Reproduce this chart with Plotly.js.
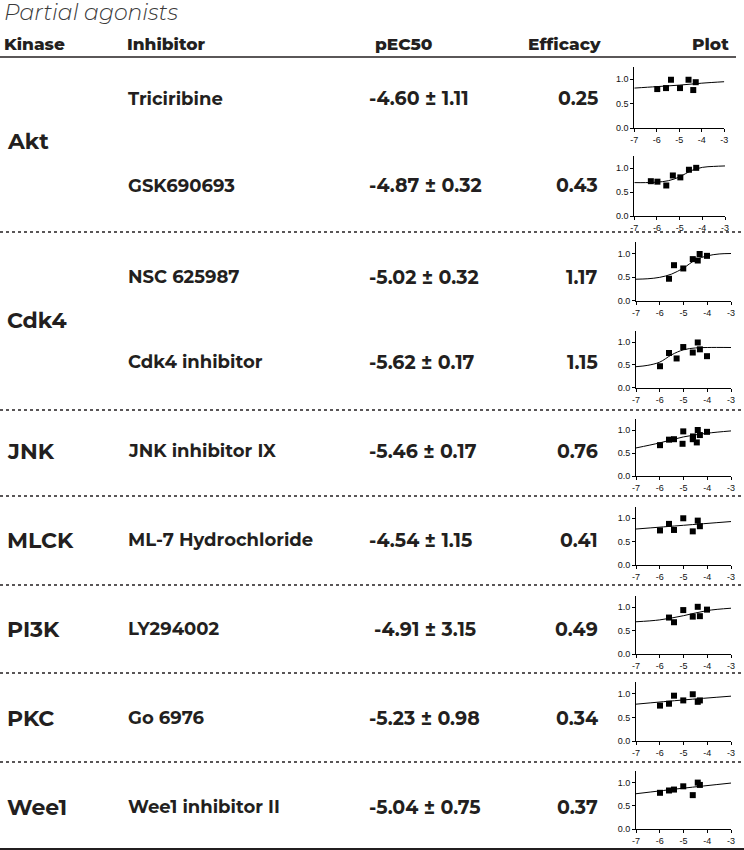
<!DOCTYPE html>
<html>
<head>
<meta charset="utf-8">
<script src="https://cdn.plot.ly/plotly-3.0.1.min.js"></script>
<style>html,body{margin:0;padding:0;background:#fff;}#chart{width:744px;height:850px;}</style>
</head>
<body>
<div id="chart"></div>
<script>
// ---------------- data ----------------
const title = 'Partial agonists';
const headers = ['Kinase', 'Inhibitor', 'pEC50', 'Efficacy', 'Plot'];
const kinases = ['Akt', 'Cdk4', 'JNK', 'MLCK', 'PI3K', 'PKC', 'Wee1'];
const inhibitors = ['Triciribine', 'GSK690693', 'NSC 625987', 'Cdk4 inhibitor', 'JNK inhibitor IX',
  'ML-7 Hydrochloride', 'LY294002', 'Go 6976', 'Wee1 inhibitor II'];
const pec50 = ['-4.60 ± 1.11', '-4.87 ± 0.32', '-5.02 ± 0.32', '-5.62 ± 0.17', '-5.46 ± 0.17',
  '-4.54 ± 1.15', '-4.91 ± 3.15', '-5.23 ± 0.98', '-5.04 ± 0.75'];
const efficacy = ['0.25', '0.43', '1.17', '1.15', '0.76', '0.41', '0.49', '0.34', '0.37'];

const xTickVals = [-7, -6, -5, -4, -3];
const xTickText = ['-7', '-6', '-5', '-4', '-3'];
const yTickVals = [0, 0.5, 1.0];
const yTickText = ['0.0', '0.5', '1.0'];

// measured points (log concentration, normalised response)
const pointsX = [
  [-5.98, -5.59, -5.37, -4.97, -4.59, -4.38, -4.27],
  [-6.27, -5.98, -5.59, -5.30, -4.97, -4.59, -4.27],
  [-5.61, -5.40, -5.01, -4.61, -4.40, -4.32, -4.01],
  [-5.99, -5.61, -5.29, -5.01, -4.61, -4.40, -4.31, -4.01],
  [-5.99, -5.61, -5.40, -5.01, -5.04, -4.61, -4.60, -4.44, -4.40, -4.31, -4.01],
  [-5.99, -5.61, -5.40, -5.01, -4.61, -4.40, -4.31],
  [-5.61, -5.40, -5.01, -4.61, -4.40, -4.31, -4.01],
  [-5.99, -5.61, -5.40, -5.01, -4.61, -4.40, -4.31],
  [-5.99, -5.61, -5.40, -5.01, -4.61, -4.40, -4.31]
];
const pointsY = [
  [0.80, 0.82, 0.99, 0.82, 0.99, 0.78, 0.94],
  [0.73, 0.72, 0.64, 0.85, 0.81, 0.97, 1.01],
  [0.47, 0.76, 0.69, 0.89, 0.86, 1.00, 0.96],
  [0.47, 0.76, 0.64, 0.89, 0.77, 0.99, 0.84, 0.69],
  [0.67, 0.79, 0.80, 0.97, 0.70, 0.80, 0.86, 0.73, 1.00, 0.89, 0.96],
  [0.74, 0.88, 0.75, 1.00, 0.72, 0.95, 0.83],
  [0.78, 0.68, 0.94, 0.80, 1.01, 0.81, 0.95],
  [0.75, 0.79, 0.96, 0.86, 0.99, 0.83, 0.86],
  [0.78, 0.83, 0.85, 0.92, 0.73, 1.00, 0.95]
];
// fitted curves
const curveX = [
  [-7, -6, -5, -4, -3],
  [-7, -6.5, -6, -5.5, -5, -4.5, -4, -3.5, -3],
  [-7, -6.5, -6, -5.5, -5, -4.5, -4, -3.5, -3],
  [-7, -6.5, -6, -5.5, -5, -4.5, -4, -3],
  [-7, -6, -5, -4, -3],
  [-7, -5, -3],
  [-7, -6, -5, -4, -3],
  [-7, -5, -3],
  [-7, -5, -3]
];
const curveY = [
  [0.82, 0.85, 0.88, 0.92, 0.95],
  [0.70, 0.70, 0.71, 0.74, 0.82, 0.95, 1.02, 1.04, 1.05],
  [0.46, 0.47, 0.50, 0.57, 0.70, 0.87, 0.96, 1.00, 1.01],
  [0.46, 0.49, 0.56, 0.72, 0.83, 0.87, 0.88, 0.88],
  [0.61, 0.72, 0.85, 0.93, 0.98],
  [0.77, 0.85, 0.93],
  [0.69, 0.73, 0.82, 0.93, 0.98],
  [0.78, 0.87, 0.95],
  [0.76, 0.88, 0.99]
];

// ---------------- layout helpers (pixels) ----------------
const W = 744, H = 850;
const px = v => v / W;
const py = v => 1 - v / H;

const INK = '#231f20';
const FONT = 'Montserrat, Inter, "Open Sans", sans-serif';

// plot boxes: [xLeft, xRight, yZero, yTop]
const boxes = [
  [634.3, 724.3, 128.3, 67.0],
  [634.3, 725.0, 216.0, 156.4],
  [636, 731, 300.7, 242.3],
  [636, 731, 387.7, 330.6],
  [636, 731, 476.0, 418.5],
  [636, 731, 565.0, 506.6],
  [636, 731, 654.0, 595.6],
  [636, 731, 741.0, 682.0],
  [636, 731, 829.0, 771.0]
];
const rowY = [99, 186, 277, 362, 451, 540, 629, 718, 807];
const kinaseY = [142, 320, 451, 540, 629, 718, 807];

const traces = [];
const layout = {
  width: W, height: H,
  margin: {l: 0, r: 0, t: 0, b: 0},
  paper_bgcolor: '#fff', plot_bgcolor: 'rgba(0,0,0,0)',
  showlegend: false,
  annotations: [], shapes: []
};

for (let i = 0; i < 9; i++) {
  const n = i === 0 ? '' : String(i + 1);
  const b = boxes[i];
  traces.push({
    x: curveX[i], y: curveY[i], xaxis: 'x' + n, yaxis: 'y' + n,
    mode: 'lines', line: {color: '#000', width: 1, shape: 'spline', smoothing: 1},
    hoverinfo: 'skip', cliponaxis: false
  });
  traces.push({
    x: pointsX[i], y: pointsY[i], xaxis: 'x' + n, yaxis: 'y' + n,
    mode: 'markers', marker: {symbol: 'square', size: 6, color: '#000'},
    hoverinfo: 'skip', cliponaxis: false
  });
  const axCommon = {
    showgrid: false, zeroline: false, showline: true, linecolor: '#000', linewidth: 1,
    ticks: 'outside', ticklen: 3, tickwidth: 1, tickcolor: '#000',
    tickfont: {family: '"Liberation Sans", Arial, sans-serif', size: 9, color: '#111'},
    fixedrange: true, tickmode: 'array'
  };
  layout['xaxis' + n] = Object.assign({}, axCommon, {
    domain: [px(b[0]), px(b[1])], range: [-7, -3], anchor: 'y' + n,
    tickvals: xTickVals, ticktext: xTickText
  });
  layout['yaxis' + n] = Object.assign({}, axCommon, {
    domain: [py(b[2]), py(b[3])], range: [0, 1.25], anchor: 'x' + n,
    tickvals: yTickVals, ticktext: yTickText
  });
}

// title
layout.annotations.push({
  text: title, xref: 'paper', yref: 'paper', x: px(2), y: py(13), xanchor: 'left', yanchor: 'middle',
  showarrow: false, font: {family: FONT, size: 22, color: '#3a3a3a', style: 'italic', weight: 300}
});
// headers
const headerX = [2, 125, 373, 526, 731];
headers.forEach((h, k) => {
  layout.annotations.push({
    text: h, xref: 'paper', yref: 'paper', x: px(headerX[k]), y: py(44),
    xanchor: k === 4 ? 'right' : 'left', yanchor: 'middle', showarrow: false,
    font: {family: FONT, size: 17, color: INK, weight: 800}
  });
});
// kinase labels
kinases.forEach((k, j) => {
  layout.annotations.push({
    text: k, xref: 'paper', yref: 'paper', x: px(5), y: py(kinaseY[j]),
    xanchor: 'left', yanchor: 'middle', showarrow: false,
    font: {family: FONT, size: 22, color: INK, weight: 700}
  });
});
// rows
for (let i = 0; i < 9; i++) {
  layout.annotations.push({
    text: inhibitors[i], xref: 'paper', yref: 'paper', x: px(126), y: py(rowY[i]),
    xanchor: 'left', yanchor: 'middle', showarrow: false,
    font: {family: FONT, size: 18, color: INK, weight: 700}
  });
  layout.annotations.push({
    text: pec50[i], xref: 'paper', yref: 'paper', x: px(367 + (i === 6 ? 5 : 0)), y: py(rowY[i]),
    xanchor: 'left', yanchor: 'middle', showarrow: false,
    font: {family: FONT, size: 19, color: INK, weight: 700}
  });
  layout.annotations.push({
    text: efficacy[i], xref: 'paper', yref: 'paper', x: px(600), y: py(rowY[i]),
    xanchor: 'right', yanchor: 'middle', showarrow: false,
    font: {family: FONT, size: 19, color: INK, weight: 700}
  });
}
// rules
layout.shapes.push({type: 'line', xref: 'paper', yref: 'paper', x0: 0, x1: px(736), y0: py(57), y1: py(57),
  line: {color: INK, width: 1.5}});
[232, 410, 496, 585, 673, 762].forEach(yy => {
  layout.shapes.push({type: 'line', xref: 'paper', yref: 'paper', x0: 0, x1: 1, y0: py(yy), y1: py(yy),
    line: {color: INK, width: 1.5, dash: 'dot'}});
});
layout.shapes.push({type: 'line', xref: 'paper', yref: 'paper', x0: 0, x1: 1, y0: py(849), y1: py(849),
  line: {color: INK, width: 2}});

Plotly.newPlot('chart', traces, layout, {displayModeBar: false, staticPlot: true});
</script>
</body>
</html>
